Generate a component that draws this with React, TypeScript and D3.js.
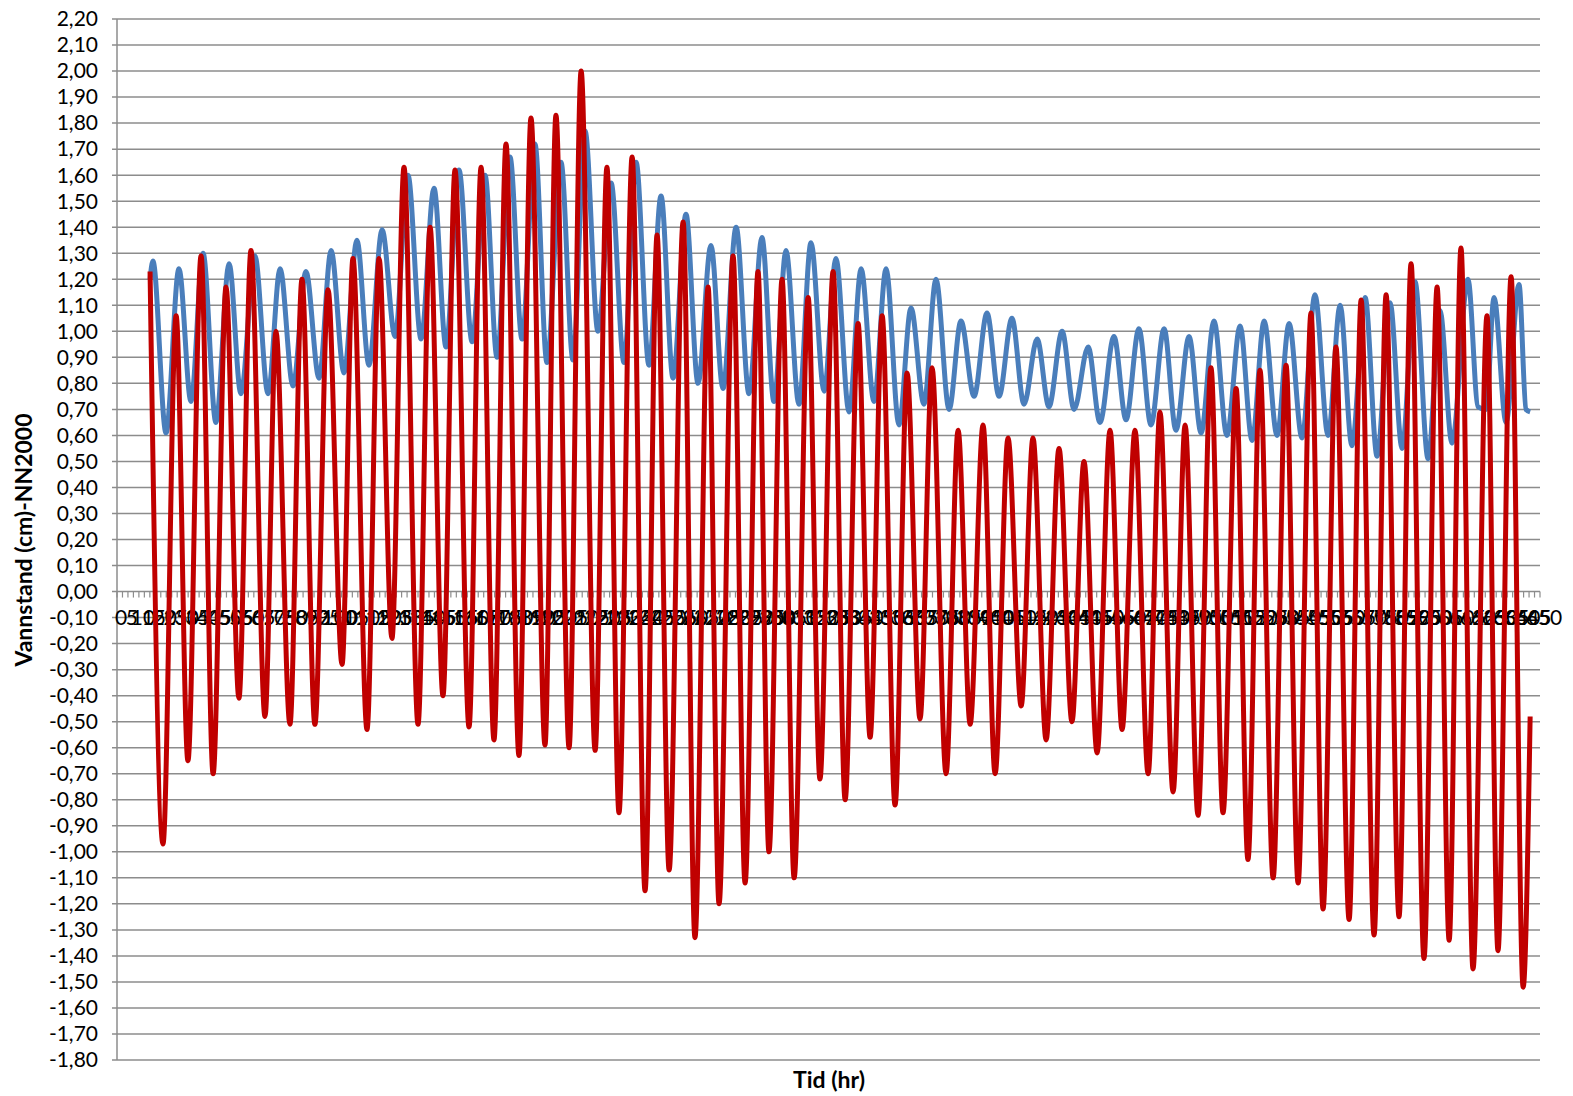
import * as d3 from "d3";

// Vannstand (m) ved toppunkter/bunnpunkter lest av figuren, tid i timer
const redTime = [
  15.1, 21.0, 27.0, 32.4, 38.4, 43.9, 49.8, 55.7, 61.2, 67.6, 72.6, 79.0, 84.5, 90.4, 96.4, 102.8,
  107.8, 114.2, 119.7, 125.6, 131.1, 137.5, 143.0, 148.9, 154.4, 160.8, 166.3, 172.2, 177.7, 183.6,
  189.1, 195.5, 200.5, 206.5, 212.0, 218.4, 223.8, 229.3, 235.3, 241.2, 246.7, 252.2, 258.6, 264.0,
  270.0, 275.0, 281.4, 286.9, 292.8, 297.8, 303.8, 309.3, 315.7, 321.1, 327.1, 332.6, 338.5, 344.0,
  349.5, 355.4, 360.9, 366.8, 372.3, 378.7, 384.2, 389.7, 395.6, 401.1, 407.0, 413.0, 418.4, 424.4,
  430.3, 436.2, 441.7, 447.7, 453.6, 459.1, 465.0, 471.0, 476.4, 482.4, 487.9, 493.8, 499.7, 505.2,
  511.2, 516.6, 522.1, 528.1, 534.0, 539.5, 545.4, 550.9, 556.8, 562.8, 568.3, 574.2, 579.7, 585.6,
  591.1, 597.0, 603.0, 608.5, 613.9, 619.4, 625.8, 630.8, 636.8, 642.3, 645.5,
];
const redLevel = [
  1.23, -0.97, 1.06, -0.65, 1.29, -0.70, 1.17, -0.41, 1.31, -0.48, 1.00, -0.51, 1.20, -0.51, 1.16, -0.28,
  1.28, -0.53, 1.28, -0.18, 1.63, -0.51, 1.40, -0.40, 1.62, -0.52, 1.63, -0.57, 1.72, -0.63,
  1.82, -0.59, 1.83, -0.60, 2.00, -0.61, 1.63, -0.85, 1.67, -1.15, 1.37, -1.07, 1.42, -1.33,
  1.17, -1.20, 1.29, -1.12, 1.23, -1.00, 1.20, -1.10, 1.13, -0.72, 1.23, -0.80, 1.03, -0.56,
  1.06, -0.82, 0.84, -0.49, 0.86, -0.70, 0.62, -0.51, 0.64, -0.70, 0.59, -0.44, 0.59, -0.57,
  0.55, -0.50, 0.50, -0.62, 0.62, -0.53, 0.62, -0.70, 0.69, -0.77, 0.64, -0.86, 0.86, -0.85,
  0.78, -1.03, 0.85, -1.10, 0.87, -1.12, 1.07, -1.22, 0.94, -1.26, 1.12, -1.32, 1.14, -1.25,
  1.26, -1.41, 1.17, -1.34, 1.32, -1.45, 1.06, -1.38, 1.21, -1.52, -0.48,
];

const blueTime = [
  15.1, 16.4, 22.4, 28.3, 33.8, 39.3, 45.2, 51.2, 56.6, 63.0, 69.0, 74.5, 80.4, 86.3, 92.3, 97.8,
  103.7, 109.6, 115.1, 121.1, 127.0, 132.9, 138.9, 144.8, 150.3, 156.2, 162.2, 168.1, 173.6, 179.5,
  185.0, 190.9, 196.4, 202.8, 208.3, 213.8, 219.7, 225.7, 231.6, 237.1, 243.0, 248.5, 254.0, 259.9,
  265.4, 271.3, 276.8, 282.8, 288.7, 294.6, 300.1, 305.6, 311.5, 317.0, 323.0, 328.4, 334.4, 339.9,
  345.8, 351.3, 357.2, 362.7, 368.6, 374.1, 380.1, 385.5, 391.5, 397.4, 402.9, 408.8, 414.3, 420.3,
  425.7, 431.7, 437.2, 443.6, 449.0, 455.4, 460.9, 466.8, 472.3, 478.3, 483.7, 489.7, 495.2, 501.1,
  507.0, 513.0, 518.5, 524.0, 529.9, 535.4, 541.3, 547.2, 553.2, 558.7, 564.1, 570.1, 575.6, 581.5,
  587.0, 592.9, 598.9, 604.3, 609.8, 617.1, 621.7, 625.4, 629.0, 634.5, 640.4, 643.6, 645.5,
];
const blueLevel = [
  1.20, 1.27, 0.61, 1.24, 0.73, 1.30, 0.65, 1.26, 0.76, 1.29, 0.76, 1.24, 0.79, 1.23, 0.82, 1.31,
  0.84, 1.35, 0.87, 1.39, 0.98, 1.60, 0.97, 1.55, 0.94, 1.62, 0.96, 1.60, 0.90, 1.67,
  0.97, 1.72, 0.88, 1.65, 0.89, 1.77, 1.00, 1.57, 0.88, 1.65, 0.87, 1.52, 0.82, 1.45,
  0.80, 1.33, 0.78, 1.40, 0.76, 1.36, 0.73, 1.31, 0.72, 1.34, 0.77, 1.28, 0.69, 1.24,
  0.73, 1.24, 0.64, 1.09, 0.72, 1.20, 0.70, 1.04, 0.75, 1.07, 0.75, 1.05, 0.72, 0.97,
  0.71, 1.00, 0.70, 0.94, 0.65, 0.98, 0.66, 1.01, 0.64, 1.01, 0.62, 0.98, 0.61, 1.04,
  0.60, 1.02, 0.58, 1.04, 0.60, 1.03, 0.59, 1.14, 0.60, 1.10, 0.56, 1.13, 0.52, 1.11,
  0.55, 1.19, 0.51, 1.08, 0.57, 1.20, 0.71, 0.70, 1.13, 0.65, 1.18, 0.70, 0.69,
];

const xTickLabels = d3.range(0, 651, 5);
const yTicks = d3.range(-18, 23).map((d) => d / 10);

const W = 1555;
const H = 1086;
const left = 109;
const right = 1532;
const top = 11;
const bottom = 1052;
const font = "Lato, 'Open Sans', sans-serif";

export default function App() {
  const x = d3.scaleLinear().domain([0, 650]).range([left, right]);
  const y = d3.scaleLinear().domain([-1.8, 2.2]).range([bottom, top]);
  const fmt = (v: number) => d3.format(".2f")(v).replace(".", ",").replace("−", "-");

  const lineGen = d3
    .line<[number, number]>()
    .x((d) => x(d[0]))
    .y((d) => y(d[1]))
    .curve(d3.curveMonotoneX);

  const blue = blueTime.map((t, i) => [t, blueLevel[i]] as [number, number]);
  const red = redTime.map((t, i) => [t, redLevel[i]] as [number, number]);
  const minorTicks = d3.range(0, 650.1, 2.5);

  return (
    <svg width={W} height={H} style={{ display: "block", fontFamily: font }}>
      <rect width={W} height={H} fill="#fff" />
      {yTicks.map((v) => (
        <g key={v}>
          <line x1={left - 5} x2={right} y1={y(v)} y2={y(v)} stroke="#8c8c8c" strokeWidth={1.5} />
          <text x={left - 19} y={y(v)} dy="0.35em" textAnchor="end" fontSize={21} fill="#000">
            {fmt(v)}
          </text>
        </g>
      ))}
      <line x1={left} x2={left} y1={top} y2={bottom} stroke="#8c8c8c" strokeWidth={1.5} />
      {minorTicks.map((t) => (
        <line key={t} x1={x(t)} x2={x(t)} y1={y(0)} y2={y(0) + 6} stroke="#8c8c8c" strokeWidth={1.2} />
      ))}
      {xTickLabels.map((t) => (
        <text key={t} x={x(t) + 4} y={y(0) + 33} textAnchor="middle" fontSize={21} fill="#000">
          {t}
        </text>
      ))}
      <path d={lineGen(blue) ?? ""} fill="none" stroke="#4a7ebb" strokeWidth={5} strokeLinejoin="round" />
      <path d={lineGen(red) ?? ""} fill="none" stroke="#c00000" strokeWidth={5} strokeLinejoin="round" />
      <text
        transform={`translate(${24 - 8},${540 - 8}) rotate(-90)`}
        textAnchor="middle"
        dy="0.35em"
        fontSize={23}
        fontWeight="bold"
        fill="#000"
      >
        Vannstand (cm)-NN2000
      </text>
      <text x={829 - 8} y={1080 - 8} dy="0.35em" textAnchor="middle" fontSize={23} fontWeight="bold" fill="#000">
        Tid (hr)
      </text>
    </svg>
  );
}
